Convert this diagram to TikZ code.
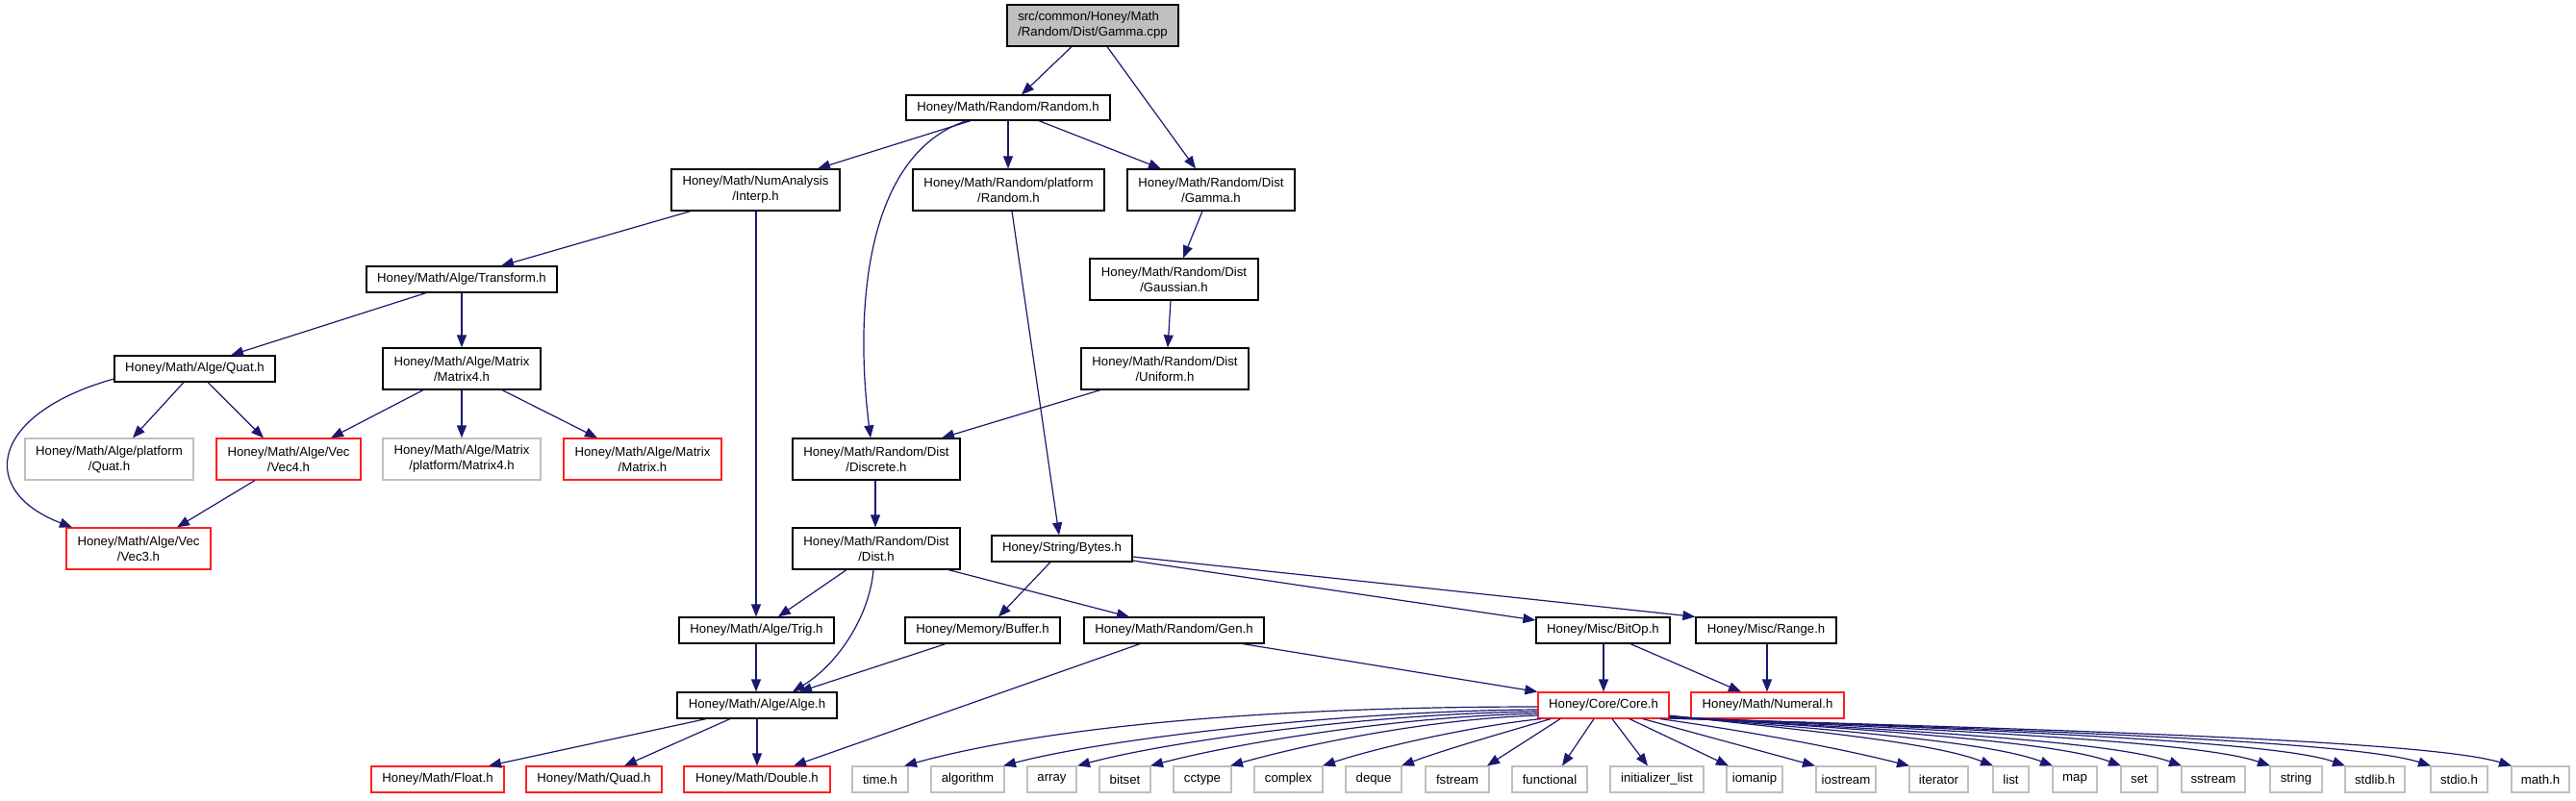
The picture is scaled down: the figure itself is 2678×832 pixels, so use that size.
\documentclass[tikz,border=0pt]{standalone}
\usepackage{fontspec}
\setmainfont{Liberation Sans}
\usetikzlibrary{arrows.meta}
\definecolor{edgec}{HTML}{191970}
\definecolor{grayb}{HTML}{BFBFBF}
\definecolor{redb}{HTML}{FF2020}
\tikzset{
 nb/.style={draw=black, line width=0.6pt, inner sep=0pt, align=center, font=\fontsize{6.6}{8}\selectfont},
 rb/.style={nb, draw=redb},
 gb/.style={nb, draw=grayb},
 rootb/.style={nb, fill=grayb, align=left},
 arr/.style={draw=edgec, line width=0.6pt, -{Triangle[length=6.5pt,width=5pt]}}
}
\newcommand\gnode[7]{\node[#2,minimum width={(#5-#3)*0.5pt},minimum height={(#6-#4)*0.5pt}] (#1) at ({(#3+#5)/2},{(#4+#6)/2}) {#7};}
\begin{document}
\begin{tikzpicture}[x=0.5pt,y=-0.5pt]
\useasboundingbox (0,0) rectangle (2678,832);
% nodes
\gnode{root}{rootb}{1047}{5}{1225}{48}{src/common/Honey/Math\\/Random/Dist/Gamma.cpp}
\gnode{randomh}{nb}{942}{99}{1154}{125}{Honey/Math/Random/Random.h}
\gnode{interp}{nb}{698}{176}{873}{219}{Honey/Math/NumAnalysis\\/Interp.h}
\gnode{prandom}{nb}{949}{176}{1148}{219}{Honey/Math/Random/platform\\/Random.h}
\gnode{gammah}{nb}{1172}{176}{1346}{219}{Honey/Math/Random/Dist\\/Gamma.h}
\gnode{gauss}{nb}{1133}{269}{1308}{312}{Honey/Math/Random/Dist\\/Gaussian.h}
\gnode{unif}{nb}{1124}{362}{1298}{405}{Honey/Math/Random/Dist\\/Uniform.h}
\gnode{transform}{nb}{381}{277}{579}{304}{Honey/Math/Alge/Transform.h}
\gnode{matrix4}{nb}{398}{362}{562}{405}{Honey/Math/Alge/Matrix\\/Matrix4.h}
\gnode{quat}{nb}{119}{370}{286}{397}{Honey/Math/Alge/Quat.h}
\gnode{pquat}{gb}{26}{456}{201}{499}{Honey/Math/Alge/platform\\/Quat.h}
\gnode{vec4}{rb}{225}{456}{375}{499}{Honey/Math/Alge/Vec\\/Vec4.h}
\gnode{pmatrix4}{gb}{398}{456}{562}{499}{Honey/Math/Alge/Matrix\\/platform/Matrix4.h}
\gnode{matrixh}{rb}{586}{456}{750}{499}{Honey/Math/Alge/Matrix\\/Matrix.h}
\gnode{vec3}{rb}{69}{549}{219}{592}{Honey/Math/Alge/Vec\\/Vec3.h}
\gnode{discrete}{nb}{824}{456}{998}{499}{Honey/Math/Random/Dist\\/Discrete.h}
\gnode{dist}{nb}{824}{549}{998}{592}{Honey/Math/Random/Dist\\/Dist.h}
\gnode{bytes}{nb}{1031}{557}{1177}{584}{Honey/String/Bytes.h}
\gnode{trig}{nb}{706}{642}{867}{669}{Honey/Math/Alge/Trig.h}
\gnode{buffer}{nb}{941}{642}{1102}{669}{Honey/Memory/Buffer.h}
\gnode{gen}{nb}{1127}{642}{1314}{669}{Honey/Math/Random/Gen.h}
\gnode{bitop}{nb}{1597}{642}{1736}{669}{Honey/Misc/BitOp.h}
\gnode{range}{nb}{1763}{642}{1909}{669}{Honey/Misc/Range.h}
\gnode{alge}{nb}{704}{720}{870}{747}{Honey/Math/Alge/Alge.h}
\gnode{core}{rb}{1599}{720}{1735}{747}{Honey/Core/Core.h}
\gnode{numeral}{rb}{1758}{720}{1917}{747}{Honey/Math/Numeral.h}
\gnode{floath}{rb}{386}{797}{524}{824}{Honey/Math/Float.h}
\gnode{quadh}{rb}{547}{797}{688}{824}{Honey/Math/Quad.h}
\gnode{doubleh}{rb}{711}{797}{863}{824}{Honey/Math/Double.h}
\gnode{timeh}{gb}{886}{797}{944}{824}{time.h}
\gnode{algorithm}{gb}{968}{797}{1044}{824}{algorithm}
\gnode{array}{gb}{1068}{797}{1119}{824}{array}
\gnode{bitset}{gb}{1143}{797}{1196}{824}{bitset}
\gnode{cctype}{gb}{1220}{797}{1280}{824}{cctype}
\gnode{complex}{gb}{1304}{797}{1375}{824}{complex}
\gnode{deque}{gb}{1399}{797}{1457}{824}{deque}
\gnode{fstream}{gb}{1482}{797}{1548}{824}{fstream}
\gnode{functional}{gb}{1572}{797}{1650}{824}{functional}
\gnode{initlist}{gb}{1674}{797}{1771}{824}{initializer\_list}
\gnode{iomanip}{gb}{1795}{797}{1853}{824}{iomanip}
\gnode{iostream}{gb}{1888}{797}{1950}{824}{iostream}
\gnode{iterator}{gb}{1985}{797}{2046}{824}{iterator}
\gnode{listh}{gb}{2072}{797}{2109}{824}{list}
\gnode{maph}{gb}{2134}{797}{2180}{824}{map}
\gnode{seth}{gb}{2205}{797}{2243}{824}{set}
\gnode{sstream}{gb}{2268}{797}{2334}{824}{sstream}
\gnode{stringh}{gb}{2360}{797}{2414}{824}{string}
\gnode{stdlib}{gb}{2438}{797}{2500}{824}{stdlib.h}
\gnode{stdio}{gb}{2527}{797}{2586}{824}{stdio.h}
\gnode{mathh}{gb}{2611}{797}{2671}{824}{math.h}
% edges
\draw[arr] (root.south -| 1114,0) -- (randomh.north -| 1062,0);
\draw[arr] (root.south -| 1151,0) -- (gammah.north -| 1243,0);
\draw[arr] (randomh.south -| 1009,0) -- (interp.north -| 850,0);
\draw[arr] (randomh.south -| 1005,0) .. controls (900,160) and (888,320) .. (discrete.north -| 905,0);
\draw[arr] (randomh.south -| 1048,0) -- (prandom.north -| 1048,0);
\draw[arr] (randomh.south -| 1080,0) -- (gammah.north -| 1207,0);
\draw[arr] (interp.south -| 718,0) -- (transform.north -| 521,0);
\draw[arr] (interp.south -| 786,0) -- (trig.north -| 786,0);
\draw[arr] (prandom.south -| 1052,0) -- (bytes.north -| 1101,0);
\draw[arr] (gammah.south -| 1250,0) -- (gauss.north -| 1230,0);
\draw[arr] (gauss.south -| 1217,0) -- (unif.north -| 1214,0);
\draw[arr] (unif.south -| 1144,0) -- (discrete.north -| 979,0);
\draw[arr] (transform.south -| 443,0) -- (quat.north -| 240,0);
\draw[arr] (transform.south -| 480,0) -- (matrix4.north -| 480,0);
\draw[arr] (quat.west |- 0,394) .. controls (-10,430) and (-25,510) .. (vec3.north -| 75,0);
\draw[arr] (quat.south -| 191,0) -- (pquat.north -| 138,0);
\draw[arr] (quat.south -| 216,0) -- (vec4.north -| 274,0);
\draw[arr] (matrix4.south -| 440,0) -- (vec4.north -| 344,0);
\draw[arr] (matrix4.south -| 480,0) -- (pmatrix4.north -| 480,0);
\draw[arr] (matrix4.south -| 522,0) -- (matrixh.north -| 621,0);
\draw[arr] (vec4.south -| 265,0) -- (vec3.north -| 184,0);
\draw[arr] (discrete.south -| 910,0) -- (dist.north -| 910,0);
\draw[arr] (dist.south -| 880,0) -- (trig.north -| 809,0);
\draw[arr] (dist.south -| 908,0) .. controls (904,640) and (872,690) .. (alge.north -| 824,0);
\draw[arr] (dist.south -| 986,0) -- (gen.north -| 1174,0);
\draw[arr] (bytes.south -| 1092,0) -- (buffer.north -| 1038,0);
\draw[arr] (bytes.east |- 0,583) -- (bitop.west |- 0,645);
\draw[arr] (bytes.east |- 0,579) -- (range.north west);
\draw[arr] (trig.south -| 786,0) -- (alge.north -| 786,0);
\draw[arr] (buffer.south -| 983,0) -- (alge.north -| 831,0);
\draw[arr] (gen.south -| 1185,0) -- (doubleh.north -| 825,0);
\draw[arr] (gen.south -| 1292,0) -- (core.north west);
\draw[arr] (bitop.south -| 1667,0) -- (core.north -| 1667,0);
\draw[arr] (bitop.south -| 1695,0) -- (numeral.north -| 1810,0);
\draw[arr] (range.south -| 1837,0) -- (numeral.north -| 1837,0);
\draw[arr] (alge.south -| 734,0) -- (floath.north -| 508,0);
\draw[arr] (alge.south -| 759,0) -- (quadh.north -| 649,0);
\draw[arr] (alge.south -| 787,0) -- (doubleh.north -| 787,0);
% Core.h to standard headers
\draw[arr] (core.west |- 0,735) .. controls (1300,735) and (1080,758) .. (timeh.north -| 940,0);
\draw[arr] (core.west |- 0,738) .. controls (1400,739) and (1150,768) .. (algorithm.north -| 1043,0);
\draw[arr] (core.west |- 0,740) .. controls (1420,742) and (1210,772) .. (array.north -| 1120,0);
\draw[arr] (core.west |- 0,742) .. controls (1450,745) and (1280,774) .. (bitset.north -| 1196,0);
\draw[arr] (core.west |- 0,744) .. controls (1480,748) and (1350,776) .. (cctype.north -| 1279,0);
\draw[arr] (core.south -| 1602,0) .. controls (1530,755) and (1430,778) .. (complex.north -| 1375,0);
\draw[arr] (core.south -| 1612,0) .. controls (1570,760) and (1500,780) .. (deque.north -| 1457,0);
\draw[arr] (core.south -| 1622,0) -- (fstream.north -| 1546,0);
\draw[arr] (core.south -| 1657,0) -- (functional.north -| 1624,0);
\draw[arr] (core.south -| 1676,0) -- (initlist.north -| 1713,0);
\draw[arr] (core.south -| 1694,0) -- (iomanip.north -| 1797,0);
\draw[arr] (core.south -| 1708,0) -- (iostream.north -| 1887,0);
\draw[arr] (core.south -| 1726,0) .. controls (1800,758) and (1900,775) .. (iterator.north -| 1985,0);
\draw[arr] (core.east |- 0,744) .. controls (1880,760) and (2010,772) .. (listh.north -| 2072,0);
\draw[arr] (core.east |- 0,745) .. controls (1920,760) and (2070,772) .. (maph.north -| 2134,0);
\draw[arr] (core.east |- 0,745) .. controls (1960,760) and (2140,772) .. (seth.north -| 2205,0);
\draw[arr] (core.east |- 0,746) .. controls (2000,760) and (2200,772) .. (sstream.north -| 2268,0);
\draw[arr] (core.east |- 0,746) .. controls (2050,760) and (2290,772) .. (stringh.north -| 2360,0);
\draw[arr] (core.east |- 0,746) .. controls (2100,760) and (2370,772) .. (stdlib.north -| 2438,0);
\draw[arr] (core.east |- 0,747) .. controls (2150,760) and (2450,772) .. (stdio.north -| 2527,0);
\draw[arr] (core.east |- 0,747) .. controls (2200,760) and (2530,772) .. (mathh.north -| 2611,0);
\end{tikzpicture}
\end{document}
